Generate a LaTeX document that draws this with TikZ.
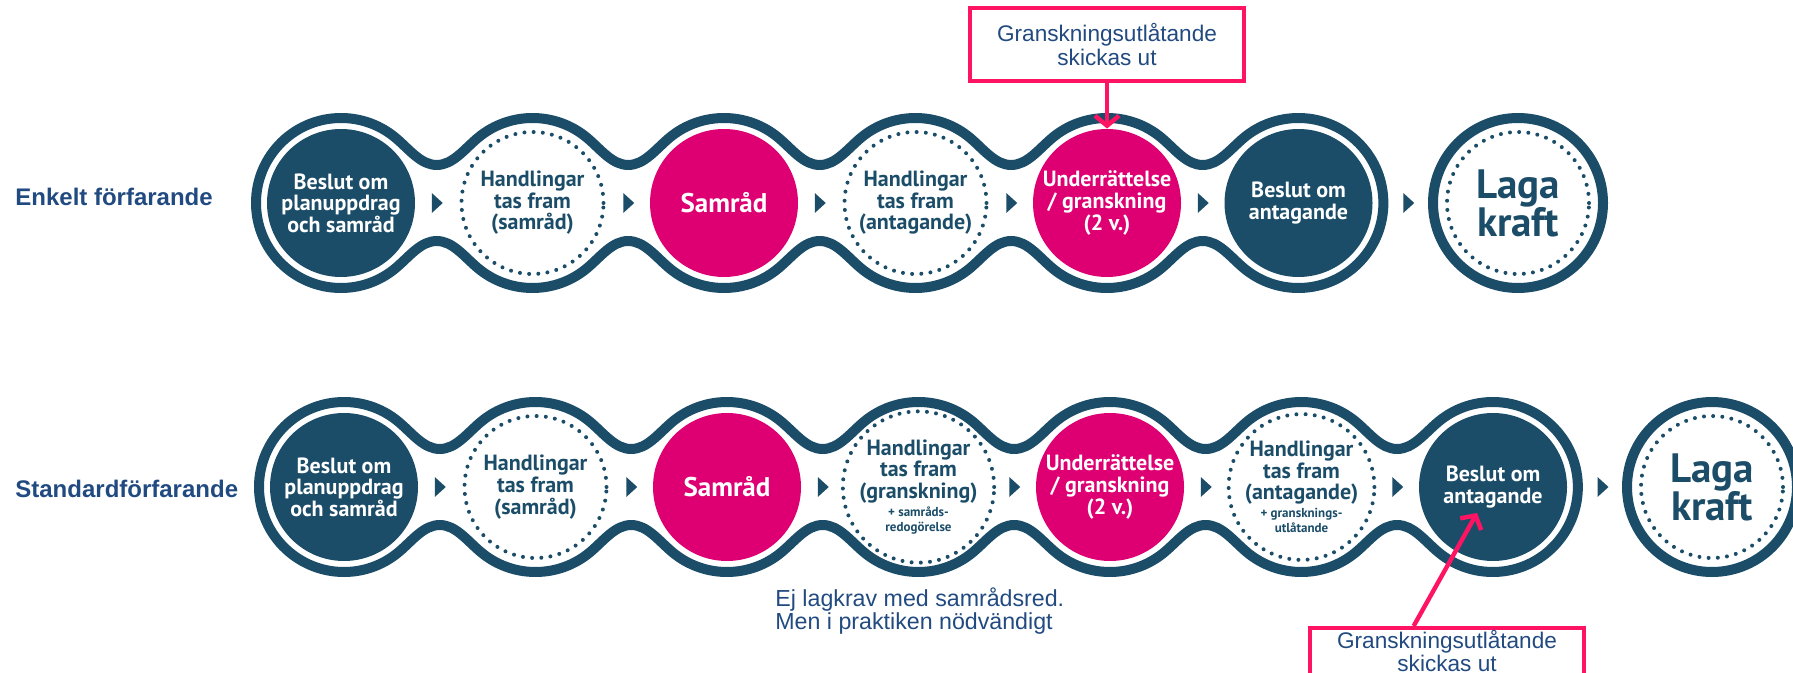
\documentclass[tikz,border=0pt]{standalone}
\usepackage{fontspec}
\setmainfont{Liberation Sans}
\newfontfamily\dinfont{PT Sans}
\usetikzlibrary{calc,arrows.meta}
\definecolor{morkbla}{RGB}{27,77,105}
\definecolor{rosa}{RGB}{222,0,115}
\definecolor{signal}{RGB}{255,20,100}
\definecolor{textbla}{RGB}{33,74,128}
\tikzset{
  steg/.style={circle,inner sep=0pt,minimum size=74pt,align=center,
    font=\dinfont\bfseries\fontsize{11}{10.8}\selectfont},
  fyllt/.style={steg,fill=morkbla,text=white},
  rosasteg/.style={steg,fill=rosa,text=white},
  prickig/.style={steg,minimum size=71pt,draw=morkbla,text=morkbla,line width=2pt,
    dash pattern=on 0pt off 4.6pt,line cap=round},
  stor/.style={font=\dinfont\bfseries\fontsize{13.5}{14}\selectfont},
  laga/.style={prickig,font=\dinfont\bfseries\fontsize{20.5}{19}\selectfont},
  kedja/.style={draw=morkbla,line width=5pt},
  ruta/.style={draw=signal,line width=2pt,minimum width=137pt,minimum height=36.5pt,
    align=center,text=textbla,font=\fontsize{11.3}{10}\selectfont},
  rosapil/.style={draw=signal,line width=2.2pt,-{Straight Barb[length=5pt,width=12pt]}},
  etikett/.style={anchor=west,inner sep=0pt,text=textbla,font=\bfseries\fontsize{12}{14}\selectfont},
  notis/.style={anchor=north west,inner sep=0pt,align=left,text=textbla,font=\fontsize{11.6}{9.8}\selectfont}
}
\newcommand{\liten}{\fontsize{6.5}{7}\selectfont}
\begin{document}
\begin{tikzpicture}[x=0.5pt,y=-0.5pt]
\useasboundingbox (0,0) rectangle (1793,673);
% kedjorna
\foreach \x/\y/\n in {341/203/6,344/487/7}{
  \draw[kedja] (\x,\y) ++(130:85) arc[start angle=130,end angle=310,radius=85]
    \foreach \i in {2,...,\n}{
      .. controls +(13.8,11.6) and +(-16,0) .. ++(41.1,27.1)
      .. controls +(16,0) and +(-13.8,11.6) .. ++(41.1,-27.1)
      arc[start angle=-130,end angle=-50,radius=85]}
    arc[start angle=-50,end angle=130,radius=85]
    \foreach \i in {2,...,\n}{
      .. controls +(-13.8,-11.6) and +(16,0) .. ++(-41.1,-27.1)
      .. controls +(-16,0) and +(13.8,-11.6) .. ++(-41.1,27.1)
      arc[start angle=50,end angle=130,radius=85]}
    -- cycle;
}
\draw[kedja] (1518,203) circle[radius=85];
\draw[kedja] (1712,487) circle[radius=85];
% enkelt
\node[etikett] (l1) at (15,197) {Enkelt förfarande};
\node[fyllt] (e1) at (341,203) {Beslut om\\planuppdrag\\och samråd};
\node[prickig] (e2) at (532.5,203) {Handlingar\\tas fram\\(samråd)};
\node[rosasteg,stor] (e3) at (724,203) {Samråd};
\node[prickig] (e4) at (915.5,203) {Handlingar\\tas fram\\(antagande)};
\node[rosasteg] (e5) at (1107,203) {Underrättelse\\/ granskning\\(2 v.)};
\node[fyllt] (e6) at (1298.5,203) {Beslut om\\antagande};
\node[laga] (e7) at (1518,203) {Laga\\kraft};
% standard
\node[etikett] (l2) at (15,489) {Standardförfarande};
\node[fyllt] (s1) at (344,487) {Beslut om\\planuppdrag\\och samråd};
\node[prickig] (s2) at (535.5,487) {Handlingar\\tas fram\\(samråd)};
\node[rosasteg,stor] (s3) at (727,487) {Samråd};
\node[prickig] (s4) at (918.5,487) {Handlingar\\tas fram\\(granskning)\\[-2pt]{\liten + samråds-}\\[-3pt]{\liten redogörelse}};
\node[rosasteg] (s5) at (1110,487) {Underrättelse\\/ granskning\\(2 v.)};
\node[prickig] (s6) at (1301.5,487) {Handlingar\\tas fram\\(antagande)\\[-2pt]{\liten + gransknings-}\\[-3pt]{\liten utlåtande}};
\node[fyllt] (s7) at (1493,487) {Beslut om\\antagande};
\node[laga] (s8) at (1712,487) {Laga\\kraft};
% pilar
\foreach \a/\b in {e1/e2,e2/e3,e3/e4,e4/e5,e5/e6,e6/e7,s1/s2,s2/s3,s3/s4,s4/s5,s5/s6,s6/s7,s7/s8}
  \fill[morkbla] ($(\a)!0.5!(\b)$) ++(-5,-10) -- ++(11,10) -- ++(-11,10) -- cycle;
% rutor
\node[ruta] (b1) at (1107,44.5) {Granskningsutlåtande\\skickas ut};
\draw[rosapil] (b1.south) -- (e5.north);
\node[ruta,anchor=north,minimum height=0pt,inner ysep=1pt,text depth=30pt] (b2) at (1447,626) {Granskningsutlåtande\\skickas ut};
\coordinate (t2) at ($(s7)+(-16,26)$);
\draw[rosapil] ($(b2.north west)!0.38!(b2.north east)$) -- (t2);
\node[notis] (n1) at (775,587) {Ej lagkrav med samrådsred.\\Men i praktiken nödvändigt};
\end{tikzpicture}
\end{document}
